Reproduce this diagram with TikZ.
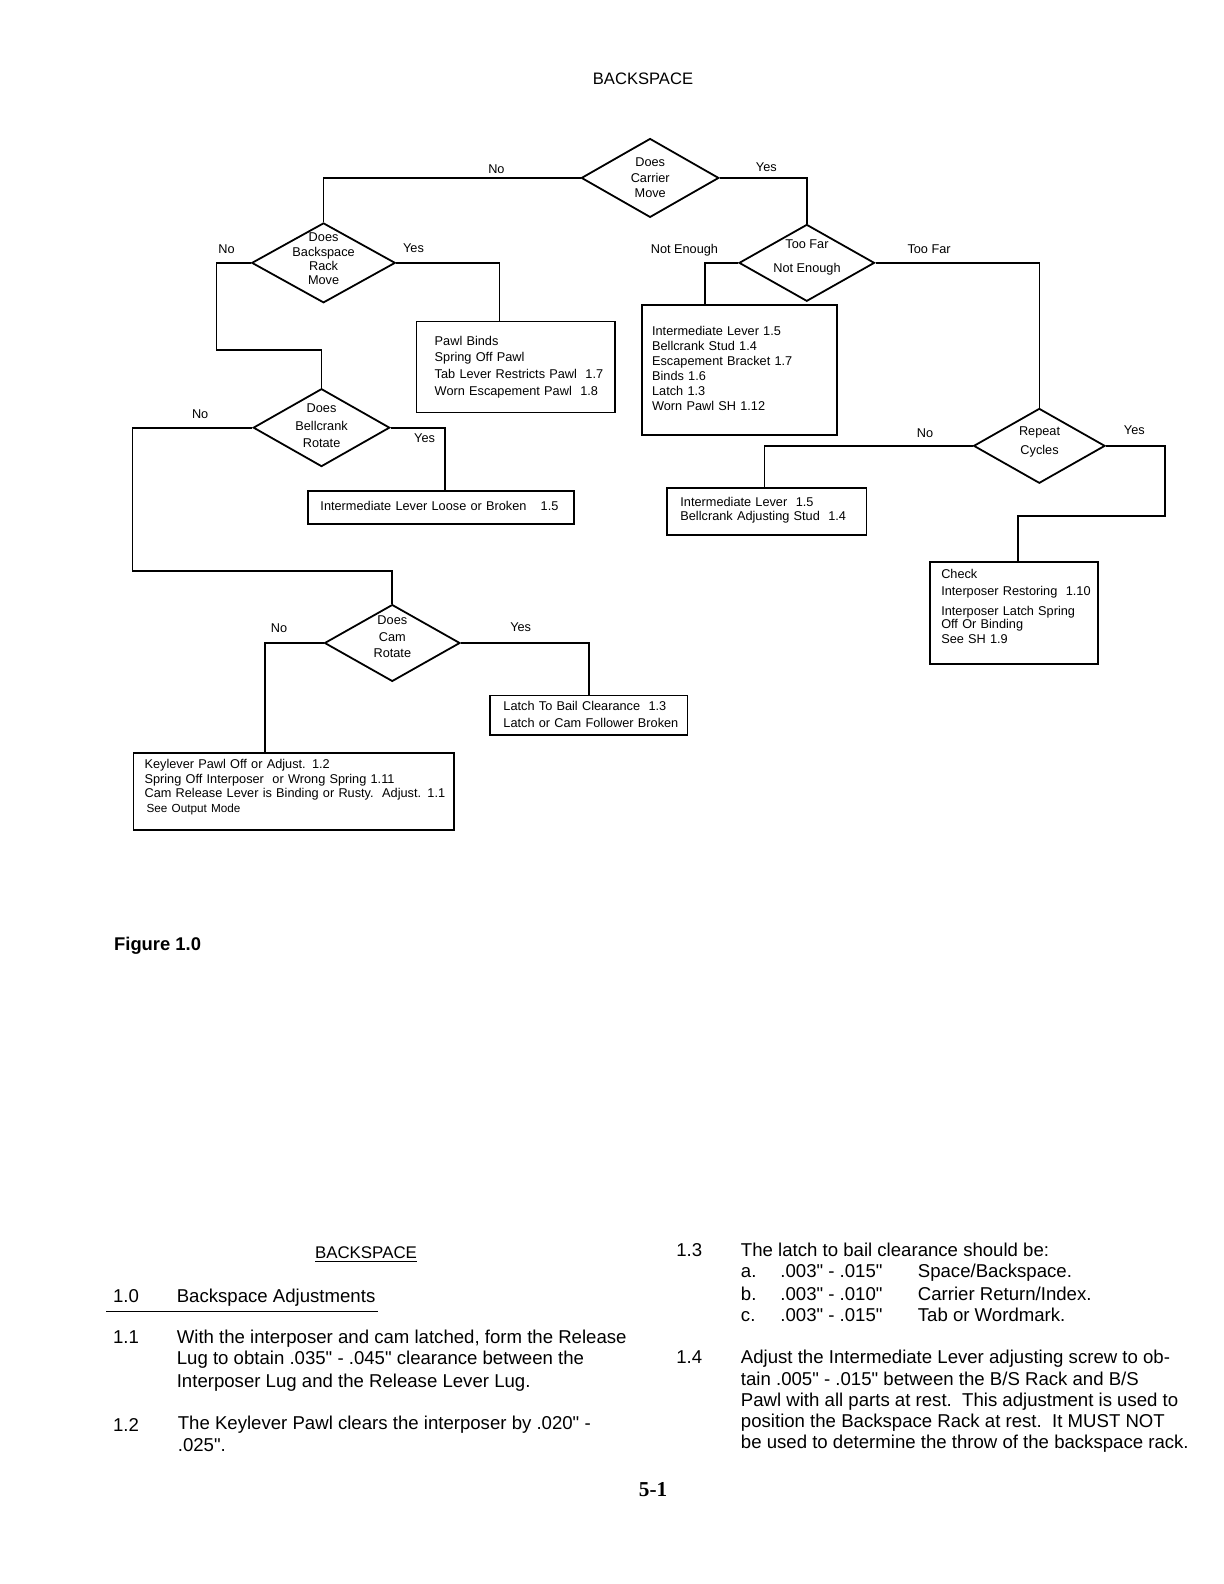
\documentclass[tikz,border=0pt]{standalone}
\usepackage{fontspec}
\setmainfont{Liberation Sans}[Ligatures=TeXOff]
\newfontfamily\pageserif{Liberation Serif}
\usetikzlibrary{shapes.geometric}
\newcommand{\diafnt}{\fontsize{6.3}{7.7}\selectfont}
\newcommand{\bodyfnt}{\fontsize{9.2}{10.6}\selectfont}
\newcommand{\btext}[3]{\hspace*{#1}\raisebox{#2}[\height][\depth]{\begin{tabular}{@{}l@{}}#3\end{tabular}}}
\begin{document}
\begin{tikzpicture}[x=0.5pt, y=-0.5pt, line width=0.9pt,
  dia/.style={draw, diamond, inner sep=0pt},
  dl/.style={align=center, inner sep=0pt},
  bx/.style={draw, rectangle, inner xsep=0pt, inner ysep=0pt, align=left},
  lab/.style={font=\diafnt, inner sep=0.5pt},
  body/.style={anchor=base west, font=\bodyfnt, inner sep=0pt},
]
\useasboundingbox (0,0) rectangle (1224,1584);
\begin{scope}[scale=1.011, transform shape]

% title
\node[font=\fontsize{8.2}{10}\selectfont, inner sep=0pt] (title) at (636,78) {BACKSPACE};

% decisions
\node[dia, minimum width=68pt, minimum height=39pt,
  label={[dl, font=\fontsize{6.3}{7.7}\selectfont]center:Does\\Carrier\\Move}] (d1) at (643,176) {};
\node[dia, minimum width=71pt, minimum height=39.5pt,
  label={[dl, yshift=2pt, font=\fontsize{6.3}{7}\selectfont]center:Does\\Backspace\\Rack\\Move}] (d2) at (320,260) {};
\node[dia, minimum width=67pt, minimum height=38pt,
  label={[dl, yshift=2.75pt, font=\fontsize{6.3}{11.5}\selectfont]center:Too Far\\Not Enough}] (d3) at (798,260) {};
\node[dia, minimum width=67.5pt, minimum height=38.5pt,
  label={[dl, yshift=1pt, font=\fontsize{6.3}{8.5}\selectfont]center:Does\\Bellcrank\\Rotate}] (d4) at (318,423) {};
\node[dia, minimum width=65pt, minimum height=37pt,
  label={[dl, yshift=2pt, font=\fontsize{6.3}{9}\selectfont]center:Repeat\\Cycles}] (d5) at (1028,441) {};
\node[dia, minimum width=67pt, minimum height=38pt,
  label={[dl, yshift=3pt, font=\fontsize{6.3}{8.2}\selectfont]center:Does\\Cam\\Rotate}] (d6) at (388,636) {};

% result boxes
\node[bx, text width=98pt, minimum height=45pt, font=\fontsize{6.3}{8.3}\selectfont] (bA) at (510,363)
  {\btext{9pt}{0pt}{Pawl Binds\\Spring Off Pawl\\Tab Lever Restricts Pawl\ \ 1.7\\Worn Escapement Pawl\ \ 1.8}};
\node[bx, text width=96.5pt, minimum height=64pt, font=\fontsize{6.3}{7.4}\selectfont] (bB) at (731.5,366)
  {\btext{5pt}{0pt}{Intermediate Lever 1.5\\Bellcrank Stud 1.4\\Escapement Bracket 1.7\\Binds 1.6\\Latch 1.3\\Worn Pawl SH 1.12}};
\node[bx, text width=131.5pt, minimum height=16pt, font=\fontsize{6.3}{7.4}\selectfont] (bC) at (436.5,502)
  {\btext{6pt}{0pt}{Intermediate Lever Loose or Broken\hspace{7pt}1.5}};
\node[bx, text width=98.5pt, minimum height=23pt, font=\fontsize{6.3}{7}\selectfont] (bD) at (758.5,506)
  {\btext{6.5pt}{0.5pt}{Intermediate Lever\ \ 1.5\\Bellcrank Adjusting Stud\ \ 1.4}};
\node[bx, text width=83pt, minimum height=50.5pt, font=\fontsize{6.3}{6.8}\selectfont] (bE) at (1003,606.5)
  {\btext{5.5pt}{2.5pt}{Check\\[1.7pt]Interposer Restoring\ \ 1.10\\[2.7pt]Interposer Latch Spring\\Off Or Binding\\[0.2pt]See SH 1.9}};
\node[bx, text width=97.5pt, minimum height=19.5pt, font=\fontsize{6.3}{8.5}\selectfont] (bF) at (582.5,707.5)
  {\btext{6.5pt}{0pt}{Latch To Bail Clearance\ \ 1.3\\Latch or Cam Follower Broken}};
\node[bx, text width=158.5pt, minimum height=38pt, font=\fontsize{6.3}{7.3}\selectfont] (bG) at (290.5,783)
  {\btext{5.5pt}{2pt}{Keylever Pawl Off or Adjust. 1.2\\Spring Off Interposer\ \ or Wrong Spring 1.11\\Cam Release Lever is Binding or Rusty.\ \ Adjust. 1.1\\\hspace*{1pt}{\fontsize{5.8}{7}\selectfont See Output Mode}}};

% elbow points
\coordinate (k1) at (214,346);
\coordinate (k2) at (131,565);
\coordinate (k3) at (1152,510);

% connectors
\draw (d1.west) -| (d2.north);
\draw (d1.east) -| (d3.north);
\draw (d2.west) -| (k1) -| (d4.north);
\draw (d2.east) -| ([xshift=-8pt]bA.north);
\draw (d3.west) -| ([xshift=-17.25pt]bB.north);
\draw (d3.east) -| (d5.north);
\draw (d4.east) -| ([xshift=1.75pt]bC.north);
\draw (d4.west) -| (k2) -| (d6.north);
\draw (d5.west) -| ([xshift=-1.25pt]bD.north);
\draw (d5.east) -| (k3) -| ([xshift=2pt]bE.north);
\draw (d6.west) -| ([xshift=-14.25pt]bG.north);
\draw (d6.east) -| (bF.north);

% branch labels
\node[lab] (l1) at (491,167) {No};
\node[lab] (l2) at (758,165) {Yes};
\node[lab] (l3) at (224,246) {No};
\node[lab] (l4) at (409,245) {Yes};
\node[lab] (l5) at (677,247) {Not Enough};
\node[lab] (l6) at (919,246) {Too Far};
\node[lab] (l7) at (198,410) {No};
\node[lab] (l8) at (420,433) {Yes};
\node[lab] (l9) at (915,428) {No};
\node[lab] (l10) at (1122,425) {Yes};
\node[lab] (l11) at (276,621) {No};
\node[lab] (l12) at (515,620) {Yes};

% figure caption
\node[anchor=west, inner sep=0pt, font=\fontsize{9.1}{11}\selectfont\bfseries] (fig) at (112,935) {Figure 1.0};

% text section, left column
\node[anchor=base, inner sep=0pt, font=\fontsize{8.35}{10}\selectfont] (h1) at (362,1245) {\underline{BACKSPACE}};
\node[body] (n10) at (111,1288) {1.0};
\node[body] (t10) at (174,1288) {Backspace Adjustments};
\draw[line width=0.6pt] ([yshift=-4.5pt, xshift=-3pt]n10.base west) -- ([yshift=-4.5pt, xshift=1pt]t10.base east);
\node[body] (n11) at (111,1329) {1.1};
\node[body] (t11a) at (174,1329) {With the interposer and cam latched, form the Release};
\node[body] (t11b) at (174,1350) {Lug to obtain .035" - .045" clearance between the};
\node[body] (t11c) at (174,1372) {Interposer Lug and the Release Lever Lug.};
\node[body] (n12) at (111,1416) {1.2};
\node[body] (t12a) at (175,1414) {The Keylever Pawl clears the interposer by .020" -};
\node[body] (t12b) at (175,1436) {.025".};

% text section, right column
\node[body] (n13) at (668,1243) {1.3};
\node[body] (t13) at (732,1243) {The latch to bail clearance should be:};
\node[body] (t13a) at (732,1264) {a.};
\node[body] (t13av) at (771,1264) {.003" - .015"};
\node[body] (t13ad) at (907,1264) {Space/Backspace.};
\node[body] (t13b) at (732,1286) {b.};
\node[body] (t13bv) at (771,1286) {.003" - .010"};
\node[body] (t13bd) at (907,1286) {Carrier Return/Index.};
\node[body] (t13c) at (732,1307) {c.};
\node[body] (t13cv) at (771,1307) {.003" - .015"};
\node[body] (t13cd) at (907,1307) {Tab or Wordmark.};
\node[body] (n14) at (668,1349) {1.4};
\node[body] (t14a) at (732,1349) {Adjust the Intermediate Lever adjusting screw to ob-};
\node[body] (t14b) at (732,1370) {tain .005" - .015" between the B/S Rack and B/S};
\node[body] (t14c) at (732,1391) {Pawl with all parts at rest.\ \ This adjustment is used to};
\node[body] (t14d) at (732,1412) {position the Backspace Rack at rest.\ \ It MUST NOT};
\node[body] (t14e) at (732,1433) {be used to determine the throw of the backspace rack.};

% page number
\node[inner sep=0pt, font=\pageserif\bfseries\fontsize{10.5}{12}\selectfont] (pg) at (646,1473) {5-1};
\end{scope}
\end{tikzpicture}
\end{document}
